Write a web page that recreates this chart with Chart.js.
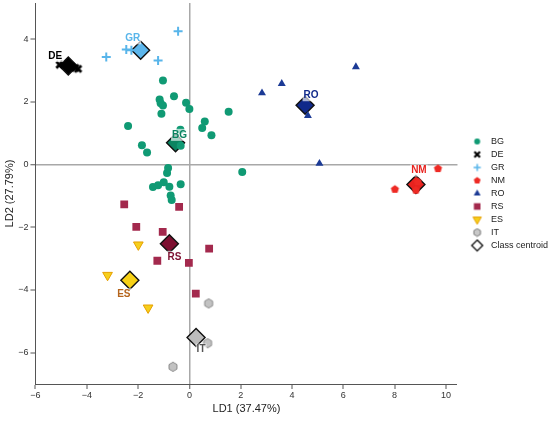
<!DOCTYPE html>
<html>
<head>
<meta charset="utf-8">
<script src="https://cdn.jsdelivr.net/npm/chart.js@4.4.1/dist/chart.umd.min.js"></script>
<style>
  html, body { margin: 0; padding: 0; background: #fff; }
  #wrap { width: 550px; height: 421px; }
</style>
</head>
<body>
<div id="wrap"><canvas id="myChart"></canvas></div>
<script>
// LD scores, one list per class
const groups = ['BG', 'DE', 'GR', 'NM', 'RO', 'RS', 'ES', 'IT'];

const BG = [[-1.03, 2.68], [-0.60, 2.18], [-1.16, 2.07], [-1.12, 1.95], [-1.03, 1.88], [-1.09, 1.62],
    [-0.13, 1.97], [0.00, 1.77], [1.53, 1.68], [0.60, 1.37], [0.50, 1.16], [0.86, 0.93], [-0.35, 1.11],
    [-2.39, 1.23], [-1.85, 0.61], [-1.65, 0.38], [-0.34, 0.60], [2.06, -0.24], [-0.83, -0.11], [-0.87, -0.27],
    [-1.42, -0.72], [-1.22, -0.66], [-1.00, -0.57], [-0.78, -0.71], [-0.34, -0.63], [-0.73, -0.99], [-0.69, -1.13]];
const DE = [[-5.06, 3.18], [-4.90, 3.20], [-4.60, 3.12], [-4.45, 3.08], [-4.34, 3.05]];
const GR = [[-3.24, 3.43], [-2.46, 3.67], [-2.26, 3.64], [-1.22, 3.32], [-0.44, 4.25]];
const NM = [[8.01, -0.79], [8.83, -0.82], [9.69, -0.13], [8.90, -0.55]];
const RO = [[2.83, 2.28], [3.60, 2.58], [6.49, 3.11], [4.62, 1.56], [5.07, 0.03]];
const RS = [[-2.54, -1.27], [-0.40, -1.35], [-2.07, -1.99], [-1.04, -2.15], [0.77, -2.68], [-1.25, -3.07],
    [-0.02, -3.14], [0.25, -4.12]];
const ES = [[-1.99, -2.56], [-3.19, -3.53], [-1.61, -4.57]];
const IT = [[0.75, -4.43], [0.71, -5.70], [-0.64, -6.45]];

const centroidX = [-0.54, -4.72, -1.90, 8.83, 4.51, -0.78, -2.32, 0.26];
const centroidY = [0.69, 3.14, 3.64, -0.64, 1.89, -2.53, -3.69, -5.52];

const xTicks = [-6, -4, -2, 0, 2, 4, 6, 8, 10];
const yTicks = [-6, -4, -2, 0, 2, 4];

const FONT = '"Liberation Sans", Arial, Helvetica, sans-serif';

// colours per class
const pointColors = ['#109a74', '#000000', '#58b5ea', '#ee2a24', '#1b3a95', '#a3294d', '#f6cf1c', '#c2c2c2'];
const centroidColors = ['#0b8461', '#000000', '#5cb6ec', '#e8231f', '#10298a', '#7c0f30', '#f7d117', '#bcbcbc'];
const labelColors = ['#0b8461', '#000000', '#58b5ea', '#e8231f', '#10298a', '#7c0f30', '#b5651d', '#555555'];

function drawMark(ctx, type, x, y, s, fill, stroke, lw) {
    ctx.beginPath();
    if (type === 'circle') {
        ctx.arc(x, y, s, 0, Math.PI * 2);
    } else if (type === 'square') {
        ctx.rect(x - s, y - s, 2 * s, 2 * s);
    } else if (type === 'plus') {
        ctx.moveTo(x - s, y); ctx.lineTo(x + s, y);
        ctx.moveTo(x, y - s); ctx.lineTo(x, y + s);
    } else if (type === 'x') {
        ctx.moveTo(x - s, y - s); ctx.lineTo(x + s, y + s);
        ctx.moveTo(x + s, y - s); ctx.lineTo(x - s, y + s);
    } else {
        const sides = { triangle: 3, triangleDown: 3, pentagon: 5, hexagon: 6, diamond: 4 }[type];
        const start = type === 'triangleDown' ? Math.PI / 2 : -Math.PI / 2;
        for (let k = 0; k < sides; k++) {
            const a = start + k * 2 * Math.PI / sides;
            const px = x + s * Math.cos(a), py = y + s * Math.sin(a);
            if (k === 0) ctx.moveTo(px, py); else ctx.lineTo(px, py);
        }
        ctx.closePath();
    }
    if (type === 'plus' || type === 'x') {
        ctx.strokeStyle = fill;
        ctx.lineWidth = lw;
        ctx.stroke();
        return;
    }
    if (fill) { ctx.fillStyle = fill; ctx.fill(); }
    if (stroke) { ctx.strokeStyle = stroke; ctx.lineWidth = lw; ctx.stroke(); }
}

function makeIcon(w, h, cx, type, s, fill, stroke, lw) {
    const c = document.createElement('canvas');
    c.width = w;
    c.height = h;
    drawMark(c.getContext('2d'), type, cx, h / 2, s, fill, stroke, lw);
    return c;
}

// shapes Chart.js does not have
const pentagon = makeIcon(11, 11, 5.5, 'pentagon', 4.3, pointColors[3], null, 0);
const hexagon = makeIcon(12, 12, 6, 'hexagon', 4.6, pointColors[7], '#8a8a8a', 1);
const heavyX = makeIcon(11, 11, 5.5, 'x', 3.3, '#000', null, 2.8);

// legend symbols, drawn left of centre so the text sits a little further right
const legendIcons = [
    makeIcon(25, 10, 15.7, 'circle', 3, pointColors[0], null, 0),
    makeIcon(25, 10, 15.7, 'x', 2.8, '#000', null, 2.2),
    makeIcon(25, 10, 15.7, 'plus', 3.6, pointColors[2], null, 1.6),
    makeIcon(25, 10, 15.7, 'pentagon', 3.6, pointColors[3], null, 0),
    makeIcon(25, 10, 15.7, 'triangle', 4, pointColors[4], null, 0),
    makeIcon(25, 10, 15.7, 'square', 3.3, pointColors[5], null, 0),
    makeIcon(25, 12, 15.7, 'triangleDown', 4.8, pointColors[6], '#e69f00', 1),
    makeIcon(25, 10, 15.7, 'hexagon', 3.8, '#c8c8c8', '#777', 1),
    makeIcon(25, 14, 15.7, 'diamond', 5.5, '#ffffff', '#000', 1.2)
];

const toXY = (arr) => arr.map(p => ({ x: p[0], y: p[1] }));

const datasets = [
    { label: 'BG', data: toXY(BG), pointStyle: 'circle', pointRadius: 4, pointBackgroundColor: pointColors[0], pointBorderWidth: 0 },
    { label: 'DE', data: toXY(DE), pointStyle: heavyX, pointRadius: 5 },
    { label: 'GR', data: toXY(GR), pointStyle: 'cross', pointRadius: 4.5, pointBorderColor: pointColors[2], pointBorderWidth: 2 },
    { label: 'NM', data: toXY(NM), pointStyle: pentagon, pointRadius: 5 },
    { label: 'RO', data: toXY(RO), pointStyle: 'triangle', pointRadius: 4.6, pointBackgroundColor: pointColors[4], pointBorderWidth: 0 },
    { label: 'RS', data: toXY(RS), pointStyle: 'rect', pointRadius: 5.5, pointBackgroundColor: pointColors[5], pointBorderWidth: 0 },
    { label: 'ES', data: toXY(ES), pointStyle: 'triangle', pointRotation: 180, pointRadius: 5.6, pointBackgroundColor: pointColors[6], pointBorderColor: '#e69f00', pointBorderWidth: 1 },
    { label: 'IT', data: toXY(IT), pointStyle: hexagon, pointRadius: 5 },
    {
        label: 'Class centroid',
        data: centroidX.map((v, i) => ({ x: v, y: centroidY[i] })),
        pointStyle: 'rectRot', pointRadius: 9,
        pointBackgroundColor: centroidColors, pointBorderColor: '#111', pointBorderWidth: 1.4
    }
];

// nudges for the class names next to the centroids (pixels)
const labelNudge = [[4, -8], [-13, -10], [-8, -12], [3, -14], [6, -10], [5, 13], [-6, 14], [5, 12]];

const centroidLabels = {
    id: 'centroidLabels',
    afterDatasetsDraw(chart) {
        const { ctx, scales: { x, y } } = chart;
        ctx.save();
        ctx.font = 'bold 10px ' + FONT;
        ctx.textAlign = 'center';
        ctx.textBaseline = 'middle';
        groups.forEach((g, i) => {
            const px = x.getPixelForValue(centroidX[i]) + labelNudge[i][0];
            const py = y.getPixelForValue(centroidY[i]) + labelNudge[i][1];
            const w = ctx.measureText(g).width + 2;
            ctx.fillStyle = 'rgba(255,255,255,0.65)';
            ctx.fillRect(px - w / 2, py - 6, w, 12);
            ctx.fillStyle = labelColors[i];
            ctx.fillText(g, px, py);
        });
        ctx.restore();
    }
};

const zeroGrid = {
    drawOnChartArea: true,
    color: (c) => (c.tick && c.tick.value === 0 ? '#a8a8a8' : 'rgba(0,0,0,0)'),
    lineWidth: (c) => (c.tick && c.tick.value === 0 ? 1.5 : 0),
    drawTicks: true,
    tickLength: 5,
    tickWidth: 1,
    tickColor: '#555'
};

const minus = (v) => String(v).replace('-', '\u2212');

var ctx = document.getElementById('myChart').getContext('2d');

var myChart = new Chart(ctx, { // eslint-disable-line
    type: 'scatter',
    data: { datasets: datasets },
    plugins: [centroidLabels],
    options: {
        responsive: true,
        maintainAspectRatio: false,
        animation: false,
        events: [],
        layout: { autoPadding: false, padding: { top: 3, right: -8, bottom: 2, left: 3 } },
        scales: {
            x: {
                min: -6,
                max: 10.45,
                afterBuildTicks: (axis) => { axis.ticks = xTicks.map(v => ({ value: v })); },
                afterFit: (axis) => { axis.paddingLeft = 0; axis.paddingRight = 0; },
                grid: zeroGrid,
                border: { display: true, color: '#555', width: 1 },
                ticks: { callback: minus, font: { size: 9, family: FONT }, color: '#333', padding: 1, maxRotation: 0 },
                title: { display: true, text: 'LD1 (37.47%)', font: { size: 11, family: FONT }, color: '#222', padding: { top: 1, bottom: 3 } }
            },
            y: {
                min: -7,
                max: 5.15,
                afterBuildTicks: (axis) => { axis.ticks = yTicks.map(v => ({ value: v })); },
                afterFit: (axis) => { axis.paddingTop = 0; axis.paddingBottom = 0; },
                grid: zeroGrid,
                border: { display: true, color: '#555', width: 1 },
                ticks: { callback: minus, font: { size: 9, family: FONT }, color: '#333', padding: 2 },
                title: { display: true, text: 'LD2 (27.79%)', font: { size: 11, family: FONT }, color: '#222', padding: { top: 0, bottom: 0 } }
            }
        },
        plugins: {
            tooltip: { enabled: false },
            legend: {
                position: 'right',
                fullSize: false,
                labels: {
                    usePointStyle: true,
                    pointStyleWidth: 25,
                    padding: 4,
                    color: '#222',
                    font: { size: 9, family: FONT },
                    generateLabels: (chart) => chart.data.datasets.map((ds, i) => ({
                        text: ds.label,
                        pointStyle: legendIcons[i],
                        fillStyle: 'rgba(0,0,0,0)',
                        strokeStyle: 'rgba(0,0,0,0)',
                        lineWidth: 0,
                        hidden: false,
                        datasetIndex: i,
                        fontColor: '#222'
                    }))
                }
            }
        }
    }
});
</script>
</body>
</html>
